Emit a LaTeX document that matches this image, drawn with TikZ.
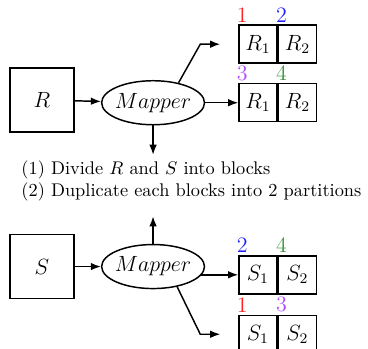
\documentclass[tikz,border=0pt]{standalone}
\usetikzlibrary{shapes.geometric,arrows.meta,positioning}
\definecolor{numRed}{HTML}{FF2020}
\definecolor{numBlue}{HTML}{2020FF}
\definecolor{numPurple}{HTML}{B04CFF}
\definecolor{numGreen}{HTML}{3A963A}

\begin{document}
\begin{tikzpicture}[
    blk/.style={draw, thick, minimum size=35pt, inner sep=0pt, font=\large},
    mapper/.style={draw, thick, ellipse, minimum width=55pt, minimum height=24pt,
                   inner xsep=-1pt, inner ysep=0pt, font=\large},
    cell/.style={draw, thick, minimum size=20.7pt, inner sep=0pt, font=\large},
    num/.style={anchor=south west, inner sep=0pt, xshift=-1pt, yshift=1pt, font=\large},
    arr/.style={-{Latex[length=5.5pt]}, thick},
  ]
  \useasboundingbox (0,0) rectangle (200.6pt,-190.2pt);

  % R side
  \node[blk] (R) at (22.9pt,-54.5pt) {$R$};
  \node[mapper, right=14.2pt of R, yshift=-1.5pt] (mr) {$Mapper$};
  \node[cell, right=18pt of mr] (r3) {$R_1$};
  \node[cell, right=0pt of r3] (r4) {$R_2$};
  \node[cell, above=10.4pt of r3] (r1) {$R_1$};
  \node[cell, right=0pt of r1] (r2) {$R_2$};

  \node[num, text=numRed] at (r1.north west) {1};
  \node[num, text=numBlue] at (r2.north west) {2};
  \node[num, text=numPurple] at (r3.north west) {3};
  \node[num, text=numGreen] at (r4.north west) {4};

  \coordinate[left=9.8pt of r1.west] (rtip);
  \coordinate[left=20.7pt of r1.west] (rbend);
  \coordinate[below=16pt of mr.south] (rdown);

  \draw[arr] (R) -- (mr);
  \draw[arr] (mr) -- (r3);
  \draw[arr] (mr.38) -- (rbend) -- (rtip);
  \draw[arr] (mr.south) -- (rdown);

  % Steps
  \node[below right=14.8pt and 6.5pt of R.south west, anchor=north west,
        align=left, inner sep=0pt] (steps)
    {(1) Divide $R$ and $S$ into blocks\\
     (2) Duplicate each blocks into 2 partitions};

  % S side
  \node[blk, below=55pt of R] (S) {$S$};
  \node[mapper, right=14.2pt of S] (ms) {$Mapper$};
  \node[cell, right=18pt of ms, yshift=-4.5pt] (s1) {$S_1$};
  \node[cell, right=0pt of s1] (s2) {$S_2$};
  \node[cell, below=10.9pt of s1] (s3) {$S_1$};
  \node[cell, right=0pt of s3] (s4) {$S_2$};

  \node[num, text=numBlue] at (s1.north west) {2};
  \node[num, text=numGreen] at (s2.north west) {4};
  \node[num, text=numRed] at (s3.north west) {1};
  \node[num, text=numPurple] at (s4.north west) {3};

  \coordinate[left=9.8pt of s3.west] (stip);
  \coordinate[left=20.7pt of s3.west] (sbend);
  \coordinate[above=15pt of ms.north] (sup);
  \coordinate (sout) at (ms.-10 |- s1.west);

  \draw[arr] (S) -- (ms);
  \draw[arr] (sout) -- (s1);
  \draw[arr] (ms.-40) -- (sbend) -- (stip);
  \draw[arr] (ms.north) -- (sup);
\end{tikzpicture}
\end{document}
